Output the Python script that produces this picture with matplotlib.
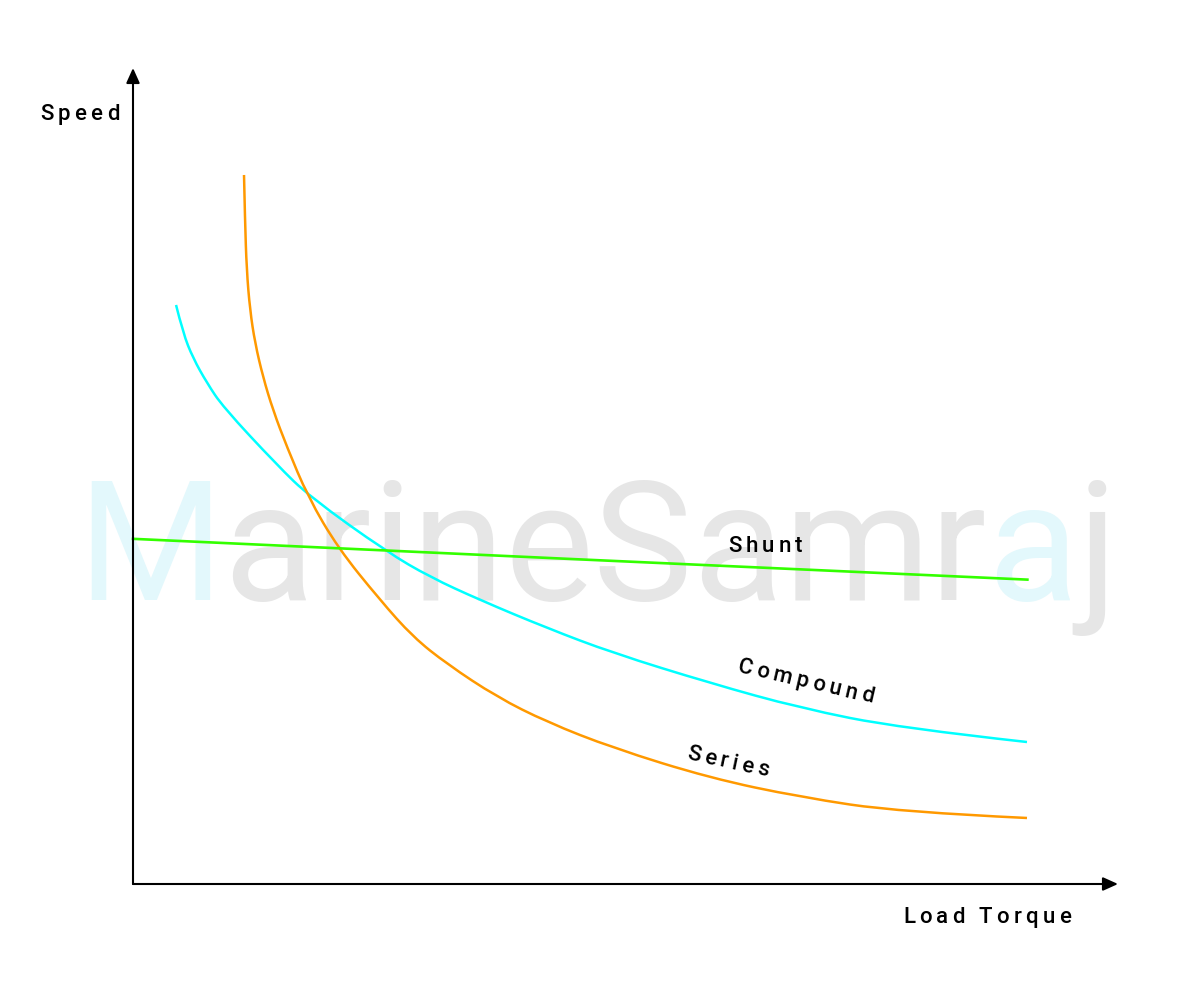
import matplotlib
matplotlib.use("Agg")
import matplotlib.pyplot as plt
from matplotlib import font_manager
from matplotlib.ft2font import FT2Font
from matplotlib.path import Path
from matplotlib.patches import PathPatch
import numpy as np

# curves (torque 0-100, speed 0-100)
series_torque = [11.27, 11.37, 11.54, 11.88, 12.39, 13.20, 14.21, 15.63, 17.77, 20.81, 25.08,
                 28.43, 31.88, 36.95, 42.03, 48.73, 58.58, 67.72, 77.87, 90.76]
series_speed = [86.89, 81.37, 75.25, 70.34, 66.30, 62.13, 58.09, 53.55, 47.43, 41.18, 34.80,
                30.27, 26.96, 22.92, 19.85, 16.67, 12.99, 10.66, 8.82, 8.09]

compound_torque = [4.37, 5.08, 6.09, 7.51, 9.14, 14.62, 17.97, 25.79, 30.15, 35.23,
                   42.03, 48.73, 58.58, 67.72, 77.87, 90.76]
compound_speed = [70.96, 67.52, 64.46, 61.40, 58.46, 51.35, 47.43, 40.69, 37.62, 34.80,
                  31.37, 28.31, 24.63, 21.57, 19.12, 17.40]

shunt_torque = [0.0, 45.0, 90.8]
shunt_speed = [42.3, 39.8, 37.3]

W, H = 1180, 1000
fig = plt.figure(figsize=(W / 100, H / 100), dpi=100)
ax = fig.add_axes([133 / W, 116 / H, 985 / W, 816 / H])
ax.set_xlim(0, 100)
ax.set_ylim(0, 100)
ax.axis("off")


def advances(s, size, weight):
    fp = font_manager.FontProperties(family="Roboto", weight=weight)
    ft = FT2Font(font_manager.findfont(fp))
    ft.set_size(size, 100)
    return [ft.load_char(ord(c)).linearHoriAdvance / 65536 for c in s]


def spaced_text(x, y, s, size, track=0.0, angle=0.0, colors=None, zorder=3, weight="medium"):
    # place each char by hand so we get letter spacing (x, y in image pixels)
    adv = advances(s, size, weight)
    a = np.radians(angle)
    pos = 0.0
    for i, c in enumerate(s):
        px = x + pos * np.cos(a)
        py = y + pos * np.sin(a)
        col = colors[i] if colors else "black"
        fig.text(px / W, 1 - py / H, c, fontsize=size, family="Roboto", weight=weight,
                 color=col, ha="left", va="baseline", rotation=-angle,
                 rotation_mode="anchor", zorder=zorder)
        pos += adv[i] + track


def smooth_curve(xs, ys, color, lw):
    # quadratic b-spline style path through the read points
    pts = np.column_stack([xs, ys])
    verts = [pts[0]]
    codes = [Path.MOVETO]
    for i in range(1, len(pts) - 1):
        end = pts[i + 1] if i == len(pts) - 2 else (pts[i] + pts[i + 1]) / 2
        verts += [pts[i], end]
        codes += [Path.CURVE3, Path.CURVE3]
    ax.add_patch(PathPatch(Path(verts, codes), fill=False, edgecolor=color, lw=lw,
                           clip_on=False, capstyle="butt"))


# watermark
wm = "MarineSamraj"
gray, cyan = "#e6e6e6", "#e3f8fc"
wm_colors = [cyan] + [gray] * 9 + [cyan, gray]
spaced_text(77, 600, wm, 120.5, colors=wm_colors, zorder=-5, weight="normal")

ax.plot(shunt_torque, shunt_speed, color="#33ff00", lw=1.9, clip_on=False)
smooth_curve(compound_torque, compound_speed, "#00ffff", 1.8)
smooth_curve(series_torque, series_speed, "#ff9900", 1.8)

arrow = dict(arrowstyle="-|>,head_length=1.0,head_width=0.45", color="black", lw=1.5,
             shrinkA=0, shrinkB=0, mutation_scale=9)
ax.annotate("", xy=(100, 0), xytext=(0, 0), arrowprops=arrow, annotation_clip=False)
ax.annotate("", xy=(0, 100), xytext=(0, 0), arrowprops=arrow, annotation_clip=False)

spaced_text(40, 120, "Speed", 16, track=4.2)
spaced_text(903, 923, "Load Torque", 16, track=4.2)
spaced_text(728, 552, "Shunt", 16, track=4.2)
spaced_text(737, 672, "Compound", 16, track=4.2, angle=13)
spaced_text(686, 759, "Series", 16, track=4.2, angle=12)

fig.savefig("out.png", dpi=100, facecolor="white")
